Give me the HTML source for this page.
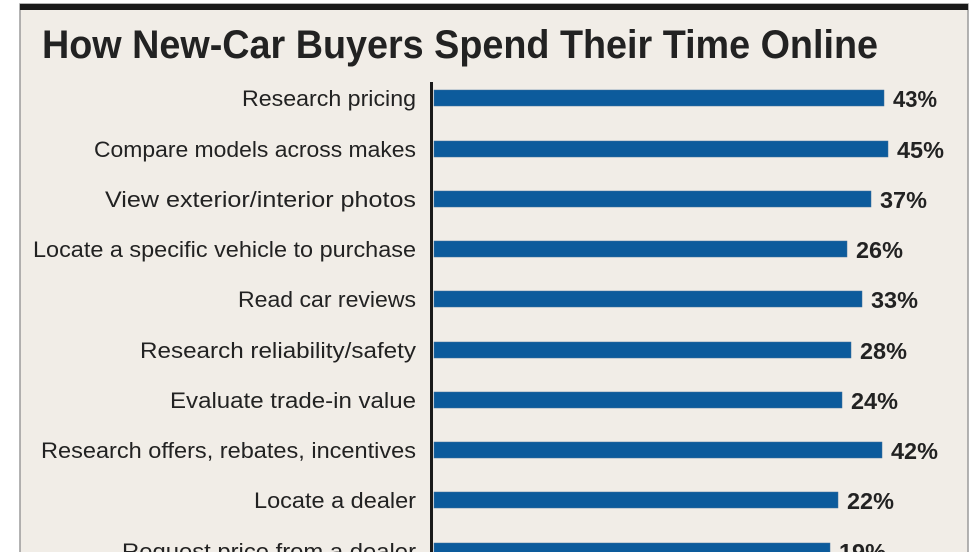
<!DOCTYPE html>
<html><head><style>body{margin:0;background:#fff}svg{display:block}</style></head><body>
<svg width="980" height="552" xmlns="http://www.w3.org/2000/svg" font-family="Liberation Sans, sans-serif">
<rect width="980" height="552" fill="#fff"/>
<rect x="20" y="4" width="948" height="560" fill="#f1ede7" stroke="#9a9a9a" stroke-width="1.5"/>
<rect x="20" y="4" width="948" height="6" fill="#1a1a1a"/>
<text x="42" y="58" font-size="40" font-weight="bold" fill="#222" textLength="836" lengthAdjust="spacingAndGlyphs">How New-Car Buyers Spend Their Time Online</text>
<rect x="430" y="82" width="3" height="480" fill="#1a1a1a"/>
<g fill="#0c5b9c" stroke="#3f6f99" stroke-width="0.5">
<rect x="434" y="90" width="450" height="16"/>
<rect x="434" y="141" width="454" height="16"/>
<rect x="434" y="191" width="437" height="16"/>
<rect x="434" y="241" width="413" height="16"/>
<rect x="434" y="291" width="428" height="16"/>
<rect x="434" y="342" width="417" height="16"/>
<rect x="434" y="392" width="408" height="16"/>
<rect x="434" y="442" width="448" height="16"/>
<rect x="434" y="492" width="404" height="16"/>
<rect x="434" y="543" width="396" height="16"/>
</g>
<g font-size="22" fill="#222" text-anchor="end">
<text x="416" y="106" textLength="174" lengthAdjust="spacingAndGlyphs">Research pricing</text>
<text x="416" y="157" textLength="322" lengthAdjust="spacingAndGlyphs">Compare models across makes</text>
<text x="416" y="207" textLength="311" lengthAdjust="spacingAndGlyphs">View exterior/interior photos</text>
<text x="416" y="257" textLength="383" lengthAdjust="spacingAndGlyphs">Locate a specific vehicle to purchase</text>
<text x="416" y="307" textLength="178" lengthAdjust="spacingAndGlyphs">Read car reviews</text>
<text x="416" y="358" textLength="276" lengthAdjust="spacingAndGlyphs">Research reliability/safety</text>
<text x="416" y="408" textLength="246" lengthAdjust="spacingAndGlyphs">Evaluate trade-in value</text>
<text x="416" y="458" textLength="375" lengthAdjust="spacingAndGlyphs">Research offers, rebates, incentives</text>
<text x="416" y="508" textLength="162" lengthAdjust="spacingAndGlyphs">Locate a dealer</text>
<text x="416" y="559" textLength="294" lengthAdjust="spacingAndGlyphs">Request price from a dealer</text>
</g>
<g font-size="23" font-weight="bold" fill="#222">
<text x="893" y="107" textLength="44" lengthAdjust="spacingAndGlyphs">43%</text>
<text x="897" y="158" textLength="47" lengthAdjust="spacingAndGlyphs">45%</text>
<text x="880" y="208" textLength="47" lengthAdjust="spacingAndGlyphs">37%</text>
<text x="856" y="258" textLength="47" lengthAdjust="spacingAndGlyphs">26%</text>
<text x="871" y="308" textLength="47" lengthAdjust="spacingAndGlyphs">33%</text>
<text x="860" y="359" textLength="47" lengthAdjust="spacingAndGlyphs">28%</text>
<text x="851" y="409" textLength="47" lengthAdjust="spacingAndGlyphs">24%</text>
<text x="891" y="459" textLength="47" lengthAdjust="spacingAndGlyphs">42%</text>
<text x="847" y="509" textLength="47" lengthAdjust="spacingAndGlyphs">22%</text>
<text x="839" y="560" textLength="47" lengthAdjust="spacingAndGlyphs">19%</text>
</g>
</svg>
</body></html>
